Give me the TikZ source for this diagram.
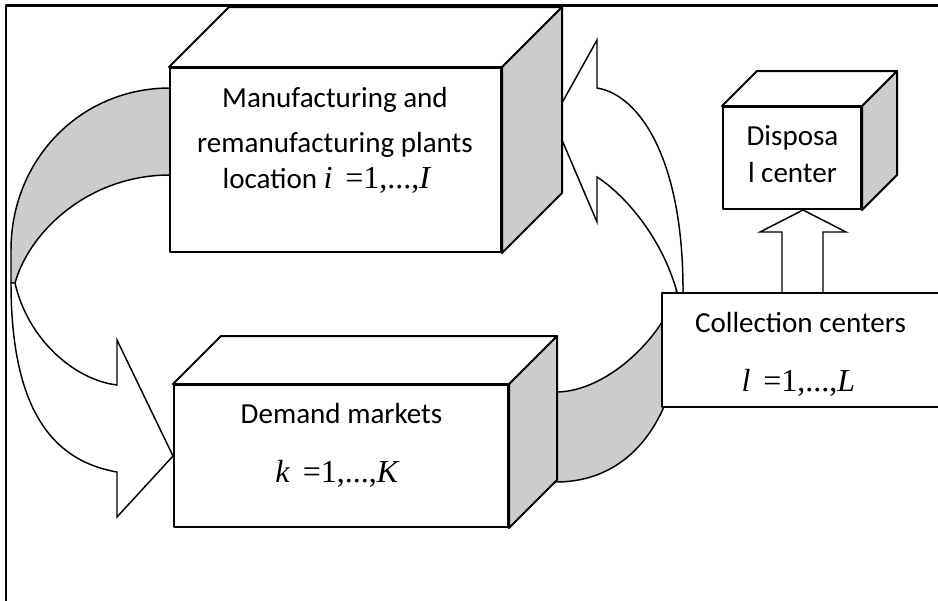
\documentclass[tikz,border=0pt]{standalone}
\usepackage{fontspec}
\setmainfont{Carlito}
\newfontfamily\eqfont{Liberation Serif}
\usetikzlibrary{calc, backgrounds}
\definecolor{shade}{gray}{0.8}

% side and top of a box whose front is node #1, depth #2
\newcommand{\boxfaces}[2]{%
  \draw[sideface] (#1.north east) -- ++(#2,-#2) -- ($(#1.south east)+(#2,-#2)$) -- (#1.south east) -- cycle;
  \draw[topface] (#1.north west) -- ++(#2,-#2) -- ($(#1.north east)+(#2,-#2)$) -- (#1.north east) -- cycle;
}
\newcommand{\idxrange}[2]{{\fontsize{24}{28}\selectfont\eqfont\textit{#1}\hspace{0.4em}=1,...,\textit{#2}}}

\begin{document}
\begin{tikzpicture}[x=0.75pt, y=-0.75pt, line join=round]
\tikzstyle{face}=[draw, fill=white, line width=1.5pt, inner sep=0pt]
\tikzstyle{sideface}=[draw, fill=shade, line width=1.5pt]
\tikzstyle{topface}=[draw, fill=white, line width=1.5pt]
\tikzstyle{ribbon}=[draw, line width=1.1pt]
\tikzstyle{txt}=[anchor=base, inner sep=0pt, font=\fontsize{21.8}{26}\selectfont]

\useasboundingbox (0,0) rectangle (938,600);
\clip (0,0) rectangle (938,600);
\draw[line width=2.2pt] (6,620) -- (6,5.5) -- (960,5.5);

% boxes
\node[face, minimum width=331*0.75pt, minimum height=184*0.75pt] (plant) at (335.5,160) {};
\boxfaces{plant}{60}
\node[face, minimum width=334*0.75pt, minimum height=142*0.75pt] (market) at (341,456) {};
\boxfaces{market}{48}
\node[face, minimum width=138*0.75pt, minimum height=102*0.75pt] (dispose) at (792,158) {};
\boxfaces{dispose}{35}
\node[face, minimum width=298*0.75pt, minimum height=114*0.75pt] (collect) at (811,350) {};

% texts
\node[txt] (plant1) at (335,107) {Manufacturing and};
\node[txt] (plant2) at (335,152) {remanufacturing plants};
\node[txt] (plant3) at (327,188) {location \idxrange{i}{I}};
\node[txt] (market1) at (341.5,423) {Demand markets};
\node[txt] (market2) at (337.5,482) {\idxrange{k}{K}};
\node[txt] (dispose1) at (792.5,145) {Disposa};
\node[txt] (dispose2) at (792.5,182) {l center};
\node[txt] (collect1) at (800.5,332) {Collection centers};
\node[txt] (collect2) at (798.5,391) {\idxrange{l}{L}};

\begin{scope}[on background layer]
% plants -> markets
\draw[ribbon, fill=shade] (170,88) .. controls (80,88) and (11,160) .. (11,250) -- (11,283) -- (15,283)
  .. controls (30,230) and (90,175) .. (170,175) -- cycle;
\draw[ribbon, fill=white] (15,283) .. controls (28,340) and (75,380) .. (117,385)
  -- (117,340) -- (market.west) -- (117,517) -- (117,472)
  .. controls (60,462) and (11,420) .. (11,283) -- cycle;
% markets -> collection -> plants
\draw[ribbon, fill=shade] (556,392) .. controls (610,392) and (670,330) .. (678,284) -- (683,284)
  -- (683,300) .. controls (683,420) and (630,482) .. (556,482) -- cycle;
\draw[ribbon, fill=white] (679,300) .. controls (665,240) and (625,195) .. (597,177) -- (597,222)
  -- (553,119) -- (597,40) -- (597,88) .. controls (640,95) and (683,160) .. (683,290) -- (683,300) -- cycle;
% collection -> disposal
\draw[ribbon, fill=white] (782,0 |- collect.north) -- (782,232) -- (760,232) -- (803,0 |- dispose.south)
  -- (846,232) -- (823,232) -- (823,0 |- collect.north);
\end{scope}
\end{tikzpicture}
\end{document}
